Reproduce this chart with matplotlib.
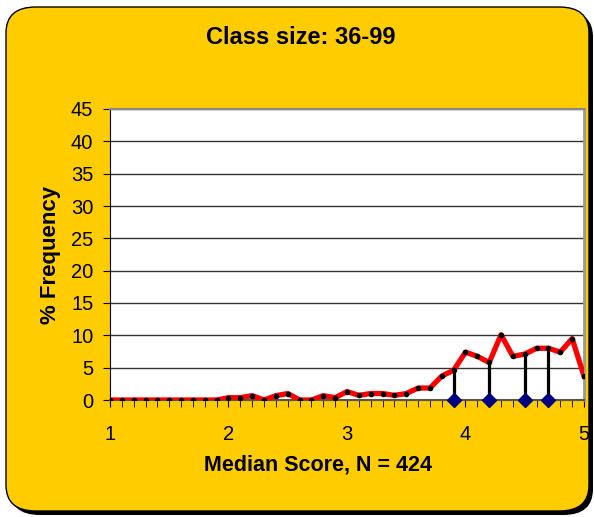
import numpy as np
import matplotlib.pyplot as plt
from matplotlib.patches import FancyBboxPatch

plt.rcParams['font.family'] = ['Liberation Sans', 'DejaVu Sans']

# median score bins 1.0 .. 5.0
scores = [1.0, 1.1, 1.2, 1.3, 1.4, 1.5, 1.6, 1.7, 1.8, 1.9,
          2.0, 2.1, 2.2, 2.3, 2.4, 2.5, 2.6, 2.7, 2.8, 2.9,
          3.0, 3.1, 3.2, 3.3, 3.4, 3.5, 3.6, 3.7, 3.8, 3.9,
          4.0, 4.1, 4.2, 4.3, 4.4, 4.5, 4.6, 4.7, 4.8, 4.9, 5.0]
freq = [0, 0, 0, 0, 0, 0, 0, 0, 0, 0,
        0.36, 0.36, 0.67, 0, 0.67, 1.0, 0, 0, 0.67, 0.36,
        1.3, 0.72, 1.0, 1.0, 0.72, 1.0, 1.85, 1.85, 3.7, 4.6,
        7.4, 6.75, 5.8, 10.1, 6.75, 7.1, 8.0, 8.0, 7.4, 9.5, 3.7]

# marker positions (drop lines)
marks = [3.9, 4.2, 4.5, 4.7]

fig = plt.figure(figsize=(5.94, 5.17), dpi=100)
yellow = '#FFCC00'

# shadow + rounded yellow box
x0, y0, w, h = 6/594, 1-511/517, 583/594, 504/517
shadow = FancyBboxPatch((x0 + 4/594, y0 - 4/517), w, h, boxstyle='round,pad=0,rounding_size=0.05',
                        transform=fig.transFigure, facecolor='black', edgecolor='none', zorder=0)
box = FancyBboxPatch((x0, y0), w, h, boxstyle='round,pad=0,rounding_size=0.05',
                     transform=fig.transFigure, facecolor=yellow, edgecolor='black', linewidth=1, zorder=1)
fig.patches.append(shadow)
fig.patches.append(box)

ax = fig.add_axes([110/594, 1-400/517, 474/594, 291/517])
ax.set_facecolor('white')
ax.set_zorder(2)

ax.set_xlim(1, 5)
ax.set_ylim(0, 45)
ax.set_yticks(range(0, 46, 5))
ax.set_xticks([1, 2, 3, 4, 5])
ax.set_xticks(np.arange(1, 5.01, 0.1), minor=True)
ax.yaxis.grid(True, color='#333333', linewidth=1)
ax.set_axisbelow(True)

for i in range(len(marks)):
    hh = freq[scores.index(marks[i])]
    ax.plot([marks[i], marks[i]], [0, hh], color='black', linewidth=2.3, zorder=3)
ax.plot(marks, [0]*len(marks), 'D', color='#000080', markersize=7, clip_on=False, zorder=5)

ax.plot(scores, freq, color='red', linewidth=3.8, zorder=4, clip_on=True)
ax.plot(scores, freq, 'o', color='black', markersize=3, zorder=4.5, clip_on=True)

ax.spines['top'].set_color('#888888')
ax.spines['top'].set_linewidth(1.5)
ax.spines['right'].set_color('#999999')
ax.spines['right'].set_linewidth(2)
ax.spines['left'].set_color('black')
ax.spines['bottom'].set_color('#555555')
ax.spines['bottom'].set_linewidth(1.5)

ax.tick_params(axis='y', direction='out', length=5, labelsize=14.5, pad=7)
ax.tick_params(axis='x', which='both', direction='out', length=5, labelsize=14.5, pad=13)

ax.set_ylabel('% Frequency', fontsize=16, fontweight='bold', labelpad=7)
fig.text(318/594, 1-465/517, 'Median Score, N = 424', ha='center', va='center',
         fontsize=15.5, fontweight='bold')
fig.text(301/594, 1-38/517, 'Class size: 36-99', ha='center', va='center',
         fontsize=17, fontweight='bold')

fig.savefig('out.png', dpi=100)
